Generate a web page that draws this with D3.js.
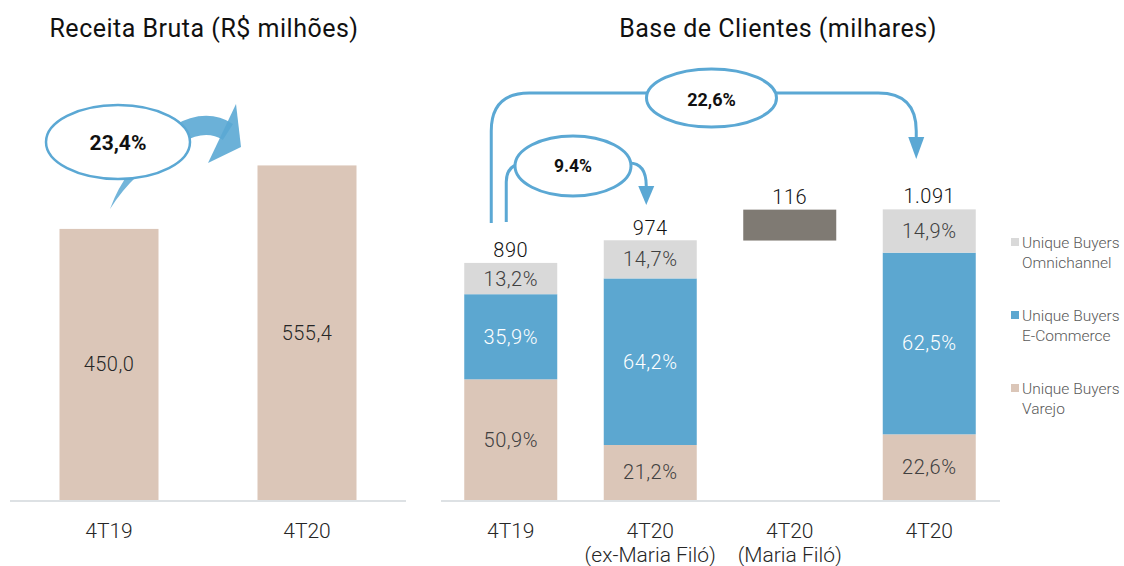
<!DOCTYPE html>
<html><head>
<meta charset="utf-8">
<script src="https://d3js.org/d3.v7.min.js"></script>
<style>
  body { margin: 0; background: #fff; }
  svg text { font-family: Roboto, "DejaVu Sans", sans-serif; font-weight: 300; }
</style>
</head>
<body>
<svg id="chart" width="1124" height="566"></svg>
<script>
// ---- data ----
const revCategories = ["4T19", "4T20"];
const revValues = [450.0, 555.4];
const revGrowth = "23,4%";

const baseCategories = ["4T19", "4T20|(ex-Maria Filó)", "4T20|(Maria Filó)", "4T20"];
const baseTotals = [890, 974, 116, 1091];
const shareVarejo = [50.9, 21.2, null, 22.6];
const shareEcommerce = [35.9, 64.2, null, 62.5];
const shareOmni = [13.2, 14.7, null, 14.9];
const totalLabels = ["890", "974", "116", "1.091"];
const growthSmall = "9.4%";
const growthBig = "22,6%";
const legendLabels = ["Unique Buyers|Omnichannel", "Unique Buyers|E-Commerce", "Unique Buyers|Varejo"];

const colors = { varejo: "#dbc6b8", ecom: "#5ca7d0", omni: "#d9d9d9", mf: "#7f7a73", arrow: "#5ba8d4", axis: "#dde1e4" };

const svg = d3.select("#chart");
const baseY = 500;
const valSize = 20, catSize = 21;

// ---------- left chart: Receita Bruta ----------
const xL = d3.scaleBand().domain(revCategories).range([10, 406]).paddingInner(0.5).paddingOuter(0.25);
const yL = d3.scaleLinear().domain([0, 830]).range([baseY, 0]);

svg.append("text").attr("x", 204).attr("y", 37).attr("text-anchor", "middle")
  .attr("font-size", 25).attr("letter-spacing", 0.5).style("font-weight", 400).attr("fill", "#111")
  .text("Receita Bruta (R$ milhões)");

const left = svg.append("g");
left.selectAll("rect").data(revValues).join("rect")
  .attr("x", (d, i) => xL(revCategories[i]))
  .attr("width", xL.bandwidth())
  .attr("y", d => yL(d))
  .attr("height", d => baseY - yL(d))
  .attr("fill", colors.varejo);

left.selectAll("text.val").data(revValues).join("text").attr("class", "val")
  .attr("x", (d, i) => xL(revCategories[i]) + xL.bandwidth() / 2)
  .attr("y", d => (yL(d) + baseY) / 2 + 7)
  .attr("text-anchor", "middle").attr("font-size", valSize).attr("letter-spacing", 0.5).attr("fill", "#262626")
  .text(d => d3.format(".1f")(d).replace(".", ","));

left.append("line").attr("x1", 10).attr("x2", 406).attr("y1", baseY + 1).attr("y2", baseY + 1)
  .attr("stroke", colors.axis).attr("stroke-width", 2);

left.selectAll("text.cat").data(revCategories).join("text").attr("class", "cat")
  .attr("x", d => xL(d) + xL.bandwidth() / 2).attr("y", 538)
  .attr("text-anchor", "middle").attr("font-size", catSize).attr("fill", "#262626").text(d => d);

// growth bubble + arrow
const bx = xL(revCategories[0]) + xL.bandwidth() / 2 + 9;
const by = 142;
const ann = svg.append("g");
// tail
ann.append("path")
  .attr("d", `M${bx + 12},${by + 30} Q${bx},${by + 45} ${bx - 8},${by + 67} Q${bx + 4},${by + 48} ${bx + 20},${by + 33} Z`)
  .attr("fill", colors.arrow).attr("opacity", 0.85);
// curved arrow body
ann.append("path")
  .attr("d", `M${bx + 60},${by - 8} Q${bx + 88},${by - 24} ${bx + 110},${by - 10}`)
  .attr("fill", "none").attr("stroke", colors.arrow).attr("stroke-width", 19).attr("opacity", 0.9);
// arrow head
ann.append("path")
  .attr("d", `M${bx + 118},${by - 38} L${bx + 123},${by + 5} L${bx + 90},${by + 21} Z`)
  .attr("fill", colors.arrow).attr("opacity", 0.9);
ann.append("ellipse").attr("cx", bx).attr("cy", by).attr("rx", 72).attr("ry", 37)
  .attr("fill", "#fff").attr("stroke", colors.arrow).attr("stroke-width", 2.5);
ann.append("text").attr("x", bx).attr("y", by + 8).attr("text-anchor", "middle")
  .attr("font-size", 21).style("font-weight", "bold").attr("fill", "#111").text(revGrowth);

// ---------- right chart: Base de Clientes ----------
const xR = d3.scaleBand().domain(baseCategories).range([441, 999]).paddingInner(1 / 3).paddingOuter(1 / 6);
const yR = d3.scaleLinear().domain([0, 1877]).range([baseY, 0]);
const bw = xR.bandwidth();

svg.append("text").attr("x", 778).attr("y", 37).attr("text-anchor", "middle")
  .attr("font-size", 25).attr("letter-spacing", 0.5).style("font-weight", 400).attr("fill", "#111")
  .text("Base de Clientes (milhares)");

const right = svg.append("g");

// stacked segments
const segKeys = ["varejo", "ecom", "omni"];
const segShares = { varejo: shareVarejo, ecom: shareEcommerce, omni: shareOmni };
const rows = baseCategories.map((c, i) => ({
  cat: c,
  varejo: shareVarejo[i] == null ? 0 : baseTotals[i] * shareVarejo[i] / 100,
  ecom: shareEcommerce[i] == null ? 0 : baseTotals[i] * shareEcommerce[i] / 100,
  omni: shareOmni[i] == null ? 0 : baseTotals[i] * shareOmni[i] / 100
}));
const stacked = d3.stack().keys(segKeys)(rows);

stacked.forEach(layer => {
  const g = right.append("g");
  layer.forEach((d, i) => {
    if (segShares[layer.key][i] == null) return;
    g.append("rect")
      .attr("x", xR(d.data.cat)).attr("width", bw)
      .attr("y", yR(d[1])).attr("height", yR(d[0]) - yR(d[1]))
      .attr("fill", colors[layer.key]);
    g.append("text")
      .attr("x", xR(d.data.cat) + bw / 2)
      .attr("y", (yR(d[0]) + yR(d[1])) / 2 + 7)
      .attr("text-anchor", "middle").attr("font-size", valSize).attr("letter-spacing", 0.5)
      .attr("fill", layer.key === "ecom" ? "#fff" : "#404040")
      .text(d3.format(".1f")(segShares[layer.key][i]).replace(".", ",") + "%");
  });
});

// floating Maria Filó bar (waterfall step)
const mfStart = baseTotals[1];
right.append("rect")
  .attr("x", xR(baseCategories[2])).attr("width", bw)
  .attr("y", yR(mfStart + baseTotals[2])).attr("height", yR(mfStart) - yR(mfStart + baseTotals[2]))
  .attr("fill", colors.mf);

// total labels
const topOf = i => i === 2 ? baseTotals[1] + baseTotals[2] : baseTotals[i];
right.selectAll("text.tot").data(totalLabels).join("text").attr("class", "tot")
  .attr("x", (d, i) => xR(baseCategories[i]) + bw / 2)
  .attr("y", (d, i) => yR(topOf(i)) - 6)
  .attr("text-anchor", "middle").attr("font-size", valSize).attr("letter-spacing", 0.5).attr("fill", "#111").text(d => d);

right.append("line").attr("x1", 441).attr("x2", 1000).attr("y1", baseY + 1).attr("y2", baseY + 1)
  .attr("stroke", colors.axis).attr("stroke-width", 2);

baseCategories.forEach(c => {
  const parts = c.split("|");
  const t = right.append("text").attr("x", xR(c) + bw / 2).attr("y", 538)
    .attr("text-anchor", "middle").attr("font-size", catSize).attr("fill", "#262626");
  parts.forEach((p, k) => t.append("tspan").attr("x", xR(c) + bw / 2).attr("dy", k ? 24 : 0).text(p));
});

// legend
const legColors = [colors.omni, colors.ecom, colors.varejo];
legendLabels.forEach((l, i) => {
  const ly = 248 + i * 73;
  right.append("rect").attr("x", 1011).attr("y", ly - 10).attr("width", 8).attr("height", 8).attr("fill", legColors[i]);
  const parts = l.split("|");
  const t = right.append("text").attr("x", 1022).attr("y", ly).attr("font-size", 15.5).attr("fill", "#595959");
  parts.forEach((p, k) => t.append("tspan").attr("x", 1022).attr("dy", k ? 20 : 0).text(p));
});

// growth connectors
const conn = svg.append("g").attr("fill", "none").attr("stroke", colors.arrow).attr("stroke-width", 3);
const x0 = xR(baseCategories[0]);
const bigX = x0 + 27, smallX = x0 + 42;
const bigEnd = xR(baseCategories[3]) + bw / 2 - 13;
const smallEnd = xR(baseCategories[1]) + bw / 2 - 4;
const bigY = 93, r = 38;

// big one 4T19 -> 4T20 total
conn.append("path").attr("d",
  `M${bigX},${yR(baseTotals[0]) - 40} L${bigX},${bigY + r} Q${bigX},${bigY} ${bigX + r},${bigY} ` +
  `L${bigEnd - r},${bigY} Q${bigEnd},${bigY} ${bigEnd},${bigY + r} L${bigEnd},${bigY + 48}`);
svg.append("path").attr("d", `M${bigEnd - 8},${bigY + 44} L${bigEnd + 8},${bigY + 44} L${bigEnd},${bigY + 66} Z`)
  .attr("fill", colors.arrow);
const bigCx = 711.5;
svg.append("ellipse").attr("cx", bigCx).attr("cy", 98).attr("rx", 65).attr("ry", 29)
  .attr("fill", "#fff").attr("stroke", colors.arrow).attr("stroke-width", 3);
svg.append("text").attr("x", bigCx).attr("y", 106).attr("text-anchor", "middle")
  .attr("font-size", 18).style("font-weight", "bold").attr("fill", "#111").text(growthBig);

// small one 4T19 -> 4T20 ex-MF
const sCx = 573, sCy = 166;
conn.append("path").attr("d",
  `M${smallX},${yR(baseTotals[0]) - 41} L${smallX},${sCy + 16} Q${smallX},${sCy} ${smallX + 14},${sCy - 2}`);
conn.append("path").attr("d",
  `M${sCx + 56},${sCy - 3} Q${smallEnd},${sCy - 3} ${smallEnd},${sCy + 20}`);
svg.append("path").attr("d", `M${smallEnd - 8},${sCy + 20} L${smallEnd + 8},${sCy + 20} L${smallEnd},${sCy + 39} Z`)
  .attr("fill", colors.arrow);
svg.append("ellipse").attr("cx", sCx).attr("cy", sCy).attr("rx", 58).attr("ry", 30)
  .attr("fill", "#fff").attr("stroke", colors.arrow).attr("stroke-width", 3);
svg.append("text").attr("x", sCx).attr("y", sCy + 6).attr("text-anchor", "middle")
  .attr("font-size", 17.5).style("font-weight", "bold").attr("fill", "#111").text(growthSmall);
</script>
</body>
</html>
